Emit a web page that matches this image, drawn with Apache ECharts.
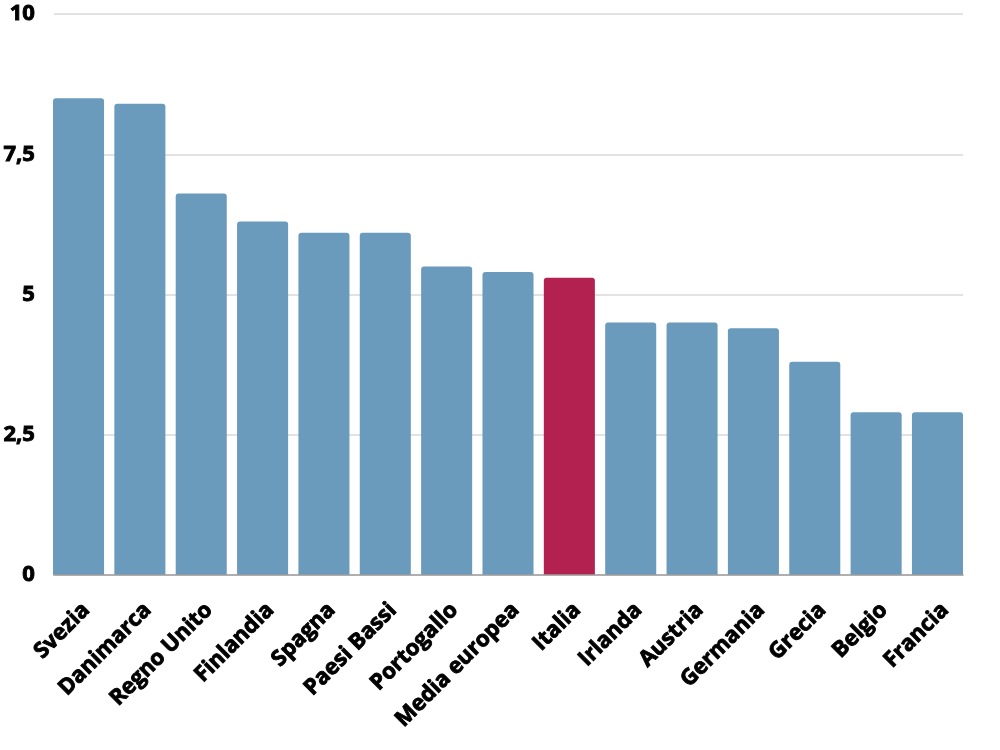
<!DOCTYPE html>
<html>
<head>
<meta charset="utf-8">
<script src="https://cdn.jsdelivr.net/npm/echarts@6/dist/echarts.min.js"></script>
<style>html,body{margin:0;padding:0;background:#fff}#c{width:1000px;height:750px}</style>
</head>
<body>
<div id="c"></div>
<script>
const categories = ['Svezia','Danimarca','Regno Unito','Finlandia','Spagna','Paesi Bassi','Portogallo','Media europea','Italia','Irlanda','Austria','Germania','Grecia','Belgio','Francia'];
const values = [8.5, 8.4, 6.8, 6.3, 6.1, 6.1, 5.5, 5.4, 5.3, 4.5, 4.5, 4.4, 3.8, 2.9, 2.9];
const highlight = 'Italia';
const yTicks = [0, 2.5, 5, 7.5, 10];

const blue = '#6a9abc';
const red = '#b22150';
const font = '"Open Sans", sans-serif';

const chart = echarts.init(document.getElementById('c'), null, {renderer: 'canvas'});
chart.setOption({
  animation: false,
  grid: [
    {left: 47.85, right: 31.85, top: 14, bottom: 175},
    {left: 53, right: 37, top: 14, bottom: 175}
  ],
  xAxis: [
    {
      type: 'category', gridIndex: 0, data: categories,
      axisLine: {show: false}, axisTick: {show: false},
      axisLabel: {interval: 0, rotate: 45, margin: 24, verticalAlign: 'top', color: '#000',
        textBorderColor: '#000', textBorderWidth: 0.9,
        fontFamily: font, fontWeight: 'bold', fontSize: 22}
    },
    {
      type: 'value', gridIndex: 1, min: 0, max: 1, show: true,
      axisLabel: {show: false}, axisTick: {show: false}, splitLine: {show: false},
      axisLine: {show: true, lineStyle: {color: '#9e9e9e', width: 1.5}}, z: 5
    }
  ],
  yAxis: [
    {type: 'value', gridIndex: 0, min: 0, max: 10, interval: 2.5, show: false, splitLine: {show: false}},
    {
      type: 'value', gridIndex: 1, min: 0, max: 10, interval: 2.5,
      axisLine: {show: false}, axisTick: {show: false},
      splitLine: {show: true, lineStyle: {color: '#d9d9d9', width: 1.5}},
      axisLabel: {margin: 19, color: '#000', textBorderColor: '#000', textBorderWidth: 0.9,
        fontFamily: font, fontWeight: 'bold', fontSize: 22,
        formatter: v => yTicks.includes(v) ? String(v).replace('.', ',') : ''}
    }
  ],
  series: [{
    type: 'bar', xAxisIndex: 0, yAxisIndex: 0, z: 3,
    barCategoryGap: '16.8%',
    data: values.map((v, i) => ({value: v, itemStyle: {color: categories[i] === highlight ? red : blue}})),
    itemStyle: {borderRadius: [3, 3, 0, 0]}
  }]
});
</script>
</body>
</html>
